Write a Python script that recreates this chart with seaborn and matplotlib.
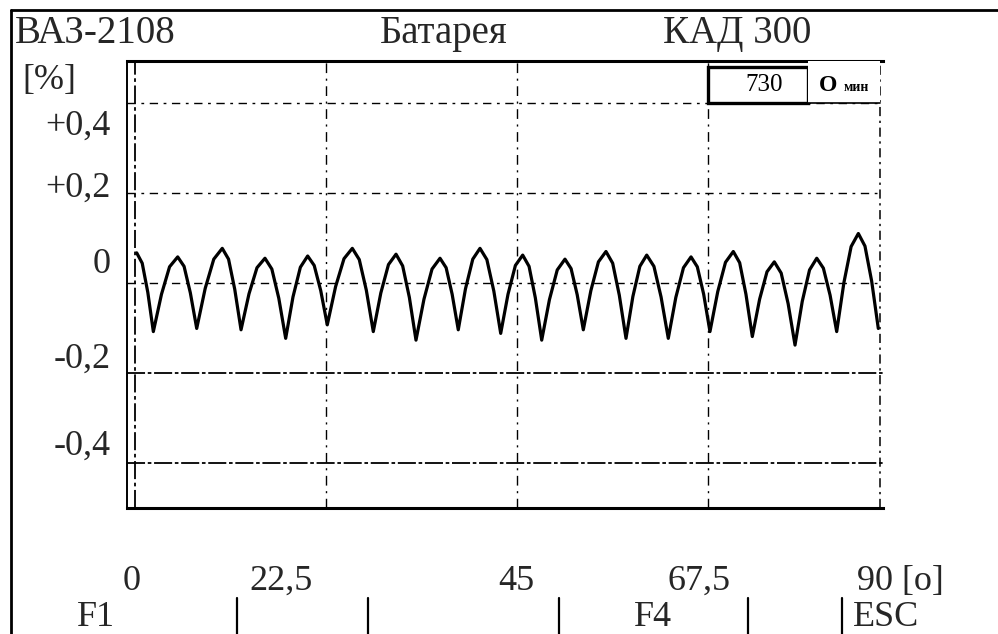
import numpy as np
import pandas as pd
import matplotlib
matplotlib.use("Agg")
import matplotlib.pyplot as plt
from matplotlib.lines import Line2D
from matplotlib.patches import Rectangle
import seaborn as sns

# ---------------- data ----------------
angle_deg = [
    0.20, 0.85, 1.51, 2.16, 3.12, 4.07, 5.03, 5.78, 6.52, 7.27,
    8.27, 9.28, 10.28, 11.02, 11.75, 12.49, 13.43, 14.37, 15.31, 16.12,
    16.94, 17.75, 18.61, 19.48, 20.34, 21.11, 21.88, 22.65, 23.63, 24.62,
    25.60, 26.42, 27.25, 28.07, 28.96, 29.86, 30.75, 31.53, 32.32, 33.10,
    34.04, 34.99, 35.93, 36.65, 37.36, 38.08, 38.93, 39.79, 40.64, 41.45,
    42.27, 43.08, 43.94, 44.81, 45.67, 46.42, 47.16, 47.91, 48.82, 49.74,
    50.65, 51.37, 52.09, 52.81, 53.70, 54.59, 55.48, 56.27, 57.05, 57.84,
    58.65, 59.47, 60.28, 61.13, 61.97, 62.82, 63.71, 64.61, 65.50, 66.24,
    66.99, 67.73, 68.65, 69.56, 70.48, 71.23, 71.97, 72.72, 73.58, 74.45,
    75.31, 76.12, 76.94, 77.75, 78.60, 79.46, 80.31, 81.09, 81.88, 82.66,
    83.51, 84.36, 85.21, 85.99, 86.78, 87.56,
]
deviation_pct = [
    0.067, 0.044, -0.021, -0.108, -0.025, 0.036, 0.058, 0.037, -0.022, -0.101,
    -0.012, 0.053, 0.077, 0.053, -0.014, -0.104, -0.024, 0.034, 0.055, 0.031,
    -0.034, -0.123, -0.031, 0.035, 0.060, 0.039, -0.017, -0.093, -0.008, 0.054,
    0.077, 0.052, -0.016, -0.108, -0.022, 0.041, 0.064, 0.038, -0.032, -0.127,
    -0.036, 0.031, 0.055, 0.034, -0.025, -0.104, -0.013, 0.053, 0.077, 0.052,
    -0.018, -0.112, -0.025, 0.039, 0.062, 0.037, -0.033, -0.127, -0.037, 0.029,
    0.053, 0.032, -0.026, -0.104, -0.017, 0.047, 0.070, 0.044, -0.027, -0.123,
    -0.030, 0.037, 0.062, 0.037, -0.031, -0.123, -0.032, 0.034, 0.058, 0.036,
    -0.025, -0.108, -0.019, 0.046, 0.070, 0.045, -0.025, -0.119, -0.036, 0.025,
    0.047, 0.022, -0.046, -0.138, -0.041, 0.029, 0.055, 0.033, -0.027, -0.108,
    0.001, 0.081, 0.110, 0.082, 0.004, -0.101,
]
y_grid = [0.4, 0.2, 0.0, -0.2, -0.4]
x_grid = [22.5, 45, 67.5]
y_tick_labels = ["+0,4", "+0,2", "0", "-0,2", "-0,4"]
x_tick_labels = ["0", "22,5", "45", "67,5", "90 [o]"]
header_left, header_mid, header_right = "ВАЗ-2108", "Батарея", "КАД 300"
rpm_value = "730"
fkeys = ["F1", "F4", "ESC"]

df = pd.DataFrame({"angle": angle_deg, "dev": deviation_pct})

# ---------------- style ----------------
sns.set_theme(style="white")
plt.rcParams["font.family"] = ["Liberation Serif", "DejaVu Serif"]

W, H = 998, 634
fig = plt.figure(figsize=(W / 100, H / 100), dpi=100)
fig.patch.set_facecolor("white")

def fx(px):
    return px / W

def fy(py):
    return 1 - py / H

# plot box in pixels
L, R, T, B = 127, 883, 61, 508
ax = fig.add_axes([fx(L), fy(B), (R - L) / W, (B - T) / H])
ax.set_facecolor("white")

x0_px, px_per_deg = 135.0, 8.489
y0_px, px_per_unit = 283.0, 450.0
ax.set_xlim((L - x0_px) / px_per_deg, (R - x0_px) / px_per_deg)
ax.set_ylim((y0_px - B) / px_per_unit, (y0_px - T) / px_per_unit)

sns.lineplot(data=df, x="angle", y="dev", ax=ax, color="black",
             linewidth=2.3, estimator=None, sort=False, legend=False, zorder=5)
ax.set_xlabel("")
ax.set_ylabel("")
ax.set_xticks([])
ax.set_yticks([])

for s in ["top", "bottom"]:
    ax.spines[s].set_linewidth(2.2)
    ax.spines[s].set_color("black")
ax.spines["left"].set_linewidth(1.4)
ax.spines["left"].set_color("black")
ax.spines["right"].set_visible(False)

# horizontal grid
for yv in y_grid:
    if yv < 0:
        ls = (0, (10, 1.5, 2, 1.5))
        lw = 1.3
    else:
        ls = (0, (6, 4, 2, 4))
        lw = 1.0
    ax.axhline(yv, color="black", lw=lw, ls=ls, zorder=2)

# vertical grid
ax.axvline(0, color="black", lw=1.3, ls=(0, (10, 2, 2, 2)), zorder=2)
for xv in x_grid:
    ax.axvline(xv, color="black", lw=1.0, ls=(0, (7, 4, 1.5, 4)), zorder=2)
ax.axvline(ax.get_xlim()[1] - 0.35, color="black", lw=1.1,
           ls=(0, (6, 3, 1.5, 3)), zorder=2)

# rpm boxes (top right)
def axp(px, py):
    return ((px - L) / (R - L), (B - py) / (B - T))

bx0, by0 = axp(708, 103)
bx1, by1 = axp(808, 67)
ax.add_patch(Rectangle((bx0, by0), bx1 - bx0, by1 - by0, transform=ax.transAxes,
                       fill=True, facecolor="white", edgecolor="black", lw=2.4, zorder=6))
cx, cy = axp(764, 91)
ax.text(cx, cy, rpm_value, transform=ax.transAxes, ha="center", va="baseline",
        fontsize=18, color="black", zorder=7)
b2x0, b2y0 = axp(808, 103)
b2x1, _ = axp(880, 103)
ax.add_patch(Rectangle((b2x0, b2y0), b2x1 - b2x0, 1 - b2y0, transform=ax.transAxes,
                       fill=True, facecolor="white", edgecolor="none", zorder=6))
ax.plot([b2x0, b2x1], [b2y0, b2y0], transform=ax.transAxes, color="black", lw=1.2, zorder=7)
ox, oy = axp(828, 91)
ax.text(ox, oy, "О", transform=ax.transAxes, ha="center", va="baseline",
        fontsize=17, fontweight="bold", color="black", zorder=7)
mx, my = axp(856, 91)
ax.text(mx, my, "мин", transform=ax.transAxes, ha="center", va="baseline",
        fontsize=10, fontweight="bold", color="black", zorder=7)

# ---------------- outer frame ----------------
fig.add_artist(Line2D([fx(10.5), fx(10.5)], [fy(10), fy(634)], lw=2.0, color="black"))
fig.add_artist(Line2D([fx(10.5), fx(998)], [fy(10), fy(10)], lw=2.0, color="black"))

FS = 26
FSH = 28
fig.text(fx(15), fy(43), header_left, fontsize=FSH, ha="left", va="baseline")
fig.text(fx(444), fy(43), header_mid, fontsize=FSH, ha="center", va="baseline")
fig.text(fx(737), fy(43), header_right, fontsize=FSH, ha="center", va="baseline")

fig.text(fx(22), fy(89), "[%]", fontsize=FS, ha="left", va="baseline")
y_lab_base = [135, 197, 273, 368, 455]
for lab, b in zip(y_tick_labels, y_lab_base):
    fig.text(fx(111), fy(b), lab, fontsize=FS, ha="right", va="baseline")

x_lab_cent = [132, 281, 516, 699, 900]
for lab, c in zip(x_tick_labels, x_lab_cent):
    fig.text(fx(c), fy(590), lab, fontsize=FS, ha="center", va="baseline")

f_cent = [96, 653, 886]
for lab, c in zip(fkeys, f_cent):
    fig.text(fx(c), fy(634), lab, fontsize=FS, ha="center", va="bottom")

for sx in [237, 368, 559, 748, 842]:
    fig.add_artist(Line2D([fx(sx), fx(sx)], [fy(598), fy(634)], lw=1.6, color="black"))

fig.savefig("out.png", dpi=100)
